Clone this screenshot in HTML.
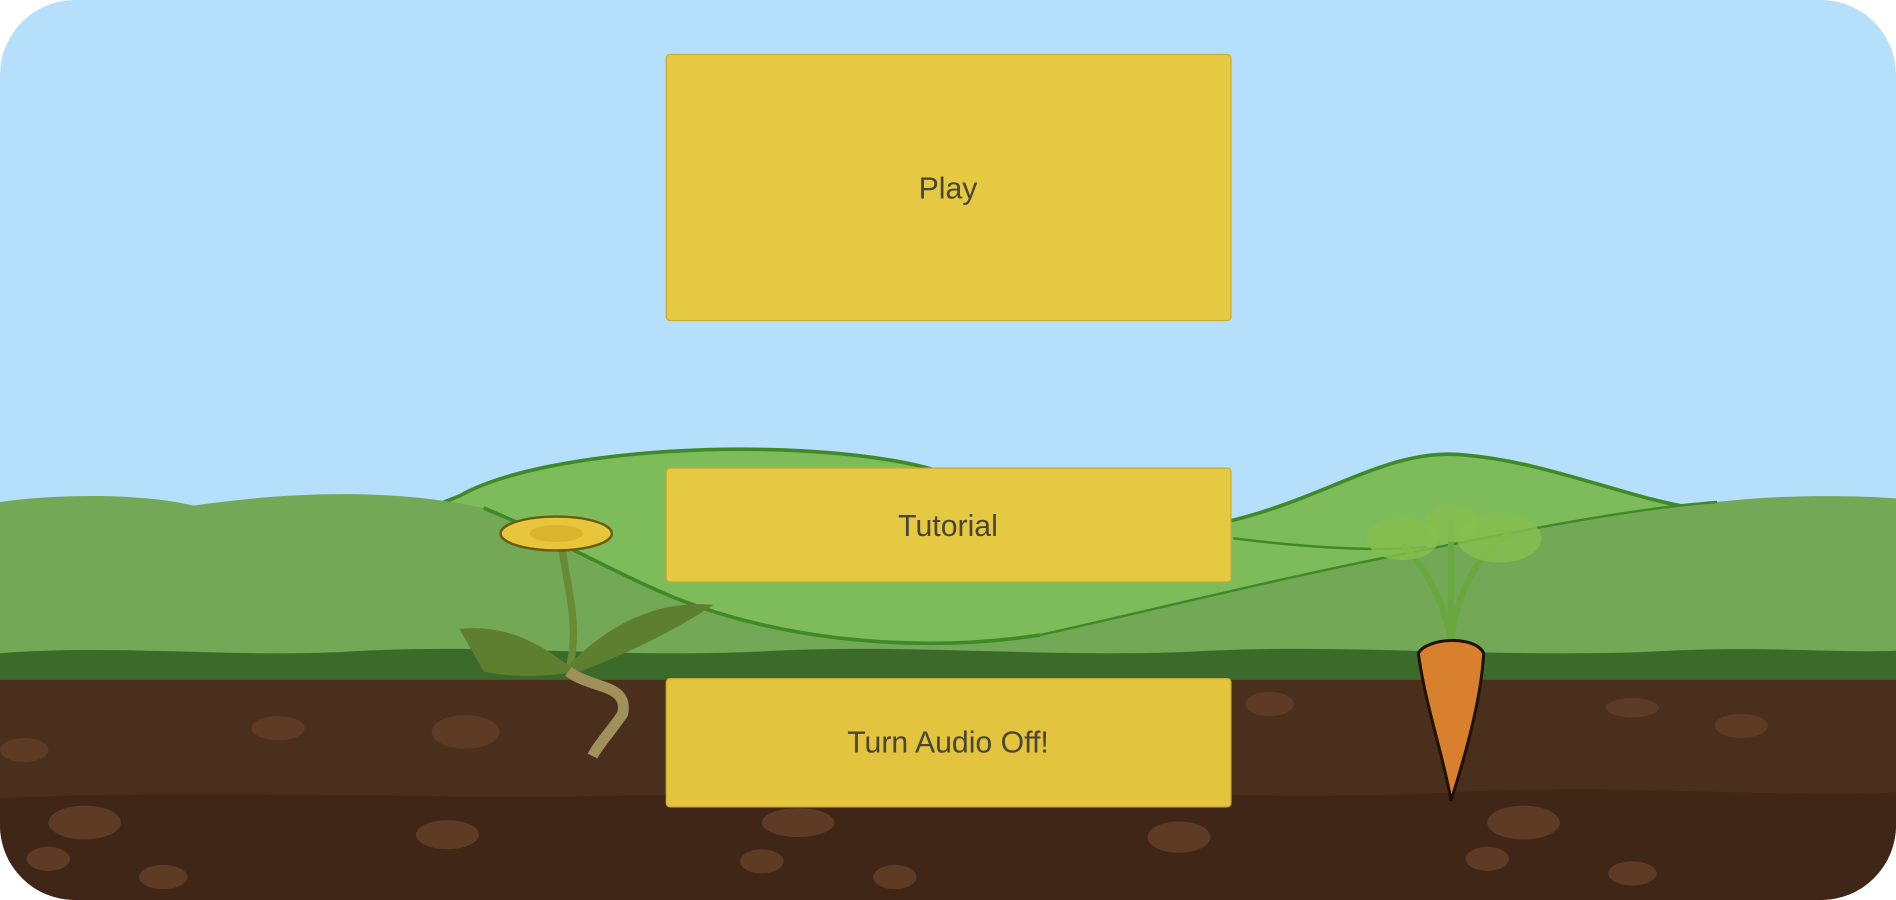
<!DOCTYPE html>
<html><head><meta charset="utf-8"><style>
html,body{margin:0;padding:0;background:#fff;width:1896px;height:900px;overflow:hidden}
svg{display:block}
text{font-family:"Liberation Sans",sans-serif;font-size:25px;fill:#4a4534}
</style></head><body>
<svg width="1896" height="900" viewBox="0 0 1568 744" preserveAspectRatio="none">
<defs><clipPath id="c"><rect x="0" y="0" width="1568" height="744" rx="62" ry="62"/></clipPath></defs>
<g clip-path="url(#c)">
<rect width="1568" height="744" fill="#b5dffb"/>
<path d="M380,410 C450,370 650,360 760,385 C820,400 900,430 1020,430 C1100,410 1150,370 1210,376 C1280,382 1340,410 1400,420 L1568,420 L1568,560 L0,560 Z" fill="#7dbb5b" stroke="#3f8a26" stroke-width="3"/>
<path d="M0,415 C50,408 120,408 160,418 C250,405 330,405 400,420 C450,440 500,470 560,495 C650,530 760,540 860,525 C950,505 1050,480 1150,460 C1250,440 1350,420 1420,415 C1480,408 1540,410 1568,412 L1568,560 L0,560 Z" fill="#72a856"/>
<path d="M400,420 C450,440 500,470 560,495 C650,530 760,540 860,525" fill="none" stroke="#3f8a26" stroke-width="3"/>
<path d="M860,525 C950,505 1050,480 1150,460 C1250,440 1350,420 1420,415" fill="none" stroke="#3f8a26" stroke-width="2"/>
<path d="M1020,445 C1100,455 1150,455 1180,452" fill="none" stroke="#3f8a26" stroke-width="2"/>
<path d="M0,540 C100,532 200,545 300,538 C420,532 520,545 640,538 C760,532 880,545 1000,538 C1120,532 1250,545 1380,538 C1460,534 1520,540 1568,538 L1568,570 L0,570 Z" fill="#3b6a2a"/>
<path d="M0,562 L1568,562 L1568,744 L0,744 Z" fill="#4b2f1d"/>
<path d="M0,660 C200,650 400,665 600,655 C800,645 1000,665 1200,655 C1350,648 1480,660 1568,655 L1568,744 L0,744 Z" fill="#402617"/>
<g fill="#5e3b25">
<ellipse cx="70" cy="680" rx="30" ry="14"/><ellipse cx="40" cy="710" rx="18" ry="10"/><ellipse cx="135" cy="725" rx="20" ry="10"/>
<ellipse cx="370" cy="690" rx="26" ry="12"/><ellipse cx="385" cy="605" rx="28" ry="14"/><ellipse cx="230" cy="602" rx="22" ry="10"/>
<ellipse cx="660" cy="680" rx="30" ry="12"/><ellipse cx="630" cy="712" rx="18" ry="10"/><ellipse cx="740" cy="725" rx="18" ry="10"/>
<ellipse cx="975" cy="692" rx="26" ry="13"/><ellipse cx="1260" cy="680" rx="30" ry="14"/><ellipse cx="1230" cy="710" rx="18" ry="10"/>
<ellipse cx="1350" cy="722" rx="20" ry="10"/><ellipse cx="1440" cy="600" rx="22" ry="10"/><ellipse cx="1050" cy="582" rx="20" ry="10"/>
<ellipse cx="20" cy="620" rx="20" ry="10"/><ellipse cx="1350" cy="585" rx="22" ry="8"/>
</g>
<path d="M465,455 C470,490 480,520 470,555" stroke="#6a8a35" stroke-width="6" fill="none"/>
<path d="M380,520 C420,515 450,535 470,550 C500,520 540,495 590,500 C560,520 520,540 480,555 C450,560 420,560 400,555 Z" fill="#5f7f30"/>
<path d="M470,555 C490,570 520,565 515,590 C505,605 495,615 490,625" stroke="#a0905a" stroke-width="9" fill="none"/>
<ellipse cx="460" cy="441" rx="46" ry="14" fill="#e8c63b" stroke="#6b5a10" stroke-width="2"/>
<ellipse cx="460" cy="441" rx="22" ry="7" fill="#d8b52c"/>
<path d="M1200,530 C1195,500 1180,470 1160,450 M1200,530 C1205,490 1220,460 1250,440 M1200,530 C1200,490 1200,460 1200,430" stroke="#6aa83e" stroke-width="5" fill="none"/>
<ellipse cx="1160" cy="445" rx="30" ry="18" fill="#86bf4f" opacity=".8"/>
<ellipse cx="1240" cy="445" rx="35" ry="20" fill="#86bf4f" opacity=".8"/>
<ellipse cx="1200" cy="432" rx="22" ry="16" fill="#86bf4f" opacity=".8"/>
<path d="M1173,540 C1180,527 1220,525 1227,540 C1225,580 1210,630 1200,662 C1195,630 1178,580 1173,540 Z" fill="#d9802e" stroke="#1f1208" stroke-width="2.5"/>
<rect x="551" y="45" width="467" height="220" rx="3" fill="#e6c942" stroke="#c9ac2e"/>
<rect x="551" y="387" width="467" height="94" rx="3" fill="#e6c942" stroke="#c9ac2e"/>
<rect x="551" y="561" width="467" height="106" rx="3" fill="#e2c43f" stroke="#c9ac2e"/>
<text x="784" y="164" text-anchor="middle">Play</text>
<text x="784" y="443" text-anchor="middle">Tutorial</text>
<text x="784" y="622" text-anchor="middle">Turn Audio Off!</text>
</g>
</svg>
</body></html>
